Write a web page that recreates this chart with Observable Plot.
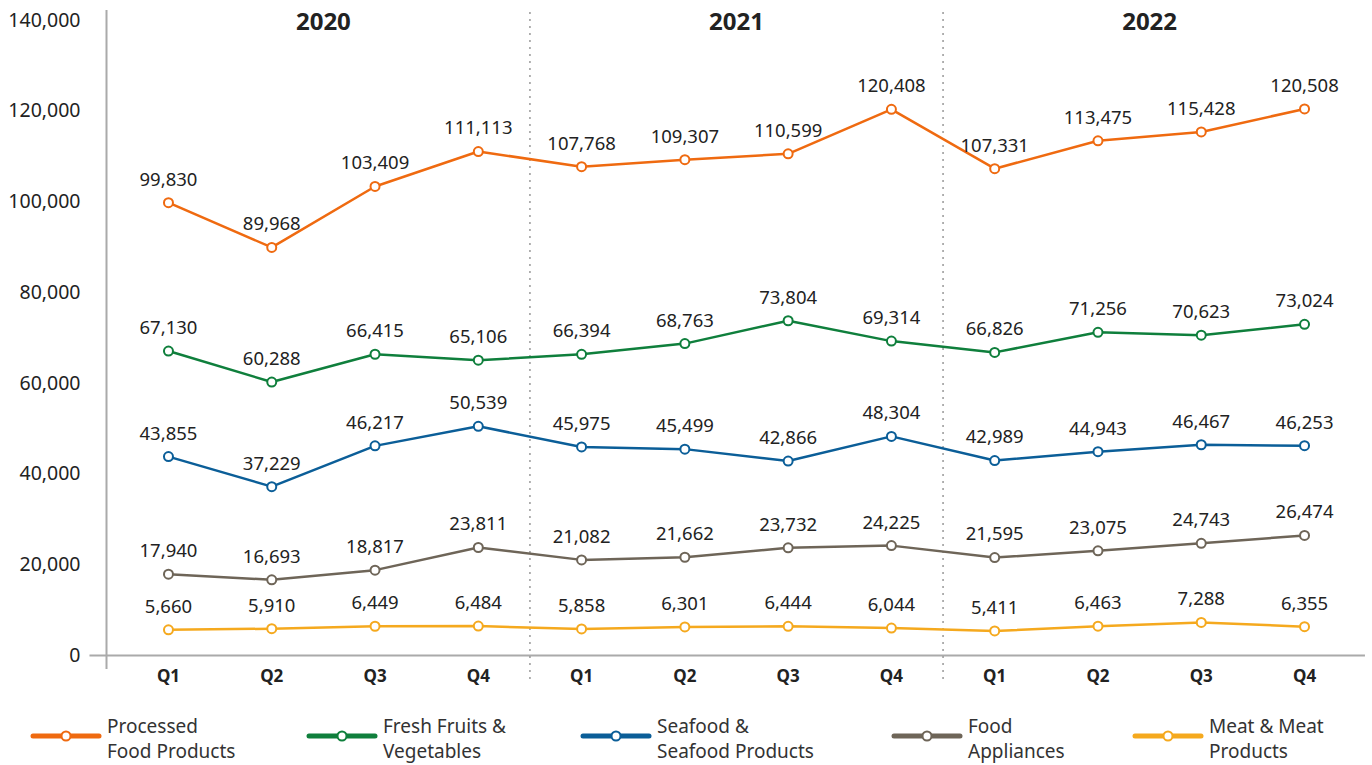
<!DOCTYPE html>
<html><head><meta charset="utf-8">
<script src="https://cdn.jsdelivr.net/npm/d3@7"></script>
<script src="https://cdn.jsdelivr.net/npm/@observablehq/plot@0.6"></script>
<style>
body{margin:0;background:#fff;font-family:"Noto Sans",sans-serif;}
#wrap{position:relative;width:1372px;height:765px;overflow:hidden;}
#legend{position:absolute;left:0;top:700px;width:1372px;height:65px;}
</style></head><body><div id="wrap"><div id="chart"></div><svg id="legend" width="1372" height="65"></svg></div>
<script>
const years = ["2020", "2021", "2022"];
const quarterLabels = ["Q1","Q2","Q3","Q4","Q1","Q2","Q3","Q4","Q1","Q2","Q3","Q4"];
const seriesNames = ["Processed Food Products", "Fresh Fruits & Vegetables", "Seafood & Seafood Products", "Food Appliances", "Meat & Meat Products"];
const legendLines = [["Processed","Food Products"],["Fresh Fruits &","Vegetables"],["Seafood &","Seafood Products"],["Food","Appliances"],["Meat & Meat","Products"]];
const colors = ["#ef6a10", "#0f7f3c", "#0b5e98", "#6e6558", "#f5a91e"];
const processed = [99830, 89968, 103409, 111113, 107768, 109307, 110599, 120408, 107331, 113475, 115428, 120508];
const fresh = [67130, 60288, 66415, 65106, 66394, 68763, 73804, 69314, 66826, 71256, 70623, 73024];
const seafood = [43855, 37229, 46217, 50539, 45975, 45499, 42866, 48304, 42989, 44943, 46467, 46253];
const appliances = [17940, 16693, 18817, 23811, 21082, 21662, 23732, 24225, 21595, 23075, 24743, 26474];
const meat = [5660, 5910, 6449, 6484, 5858, 6301, 6444, 6044, 5411, 6463, 7288, 6355];
const yTicks = [0, 20000, 40000, 60000, 80000, 100000, 120000, 140000];

const allValues = [processed, fresh, seafood, appliances, meat];
const data = [];
allValues.forEach((vals, si) => vals.forEach((v, i) => data.push({series: seriesNames[si], i, value: v})));
const fmt = d3.format(",");

const chart = Plot.plot({
  width: 1372, height: 700,
  marginLeft: 106, marginRight: 6, marginTop: 20, marginBottom: 45,
  x: {domain: [-0.6, 11.6], axis: null},
  y: {domain: [0, 140000], axis: null},
  color: {domain: seriesNames, range: colors},
  style: {fontFamily: "Noto Sans", fontSize: "18px", color: "#222", background: "#fff"},
  marks: [
    Plot.axisY(yTicks, {tickSize: 0, tickPadding: 26, tickFormat: fmt, fontSize: 19.5, fill: "#222", label: null}),
    Plot.ruleX([-0.6], {y1: -3100, y2: 142200, stroke: "#aaa", strokeWidth: 2}),
    Plot.ruleY([0], {x1: -0.76, x2: 11.59, stroke: "#aaa", strokeWidth: 2}),
    Plot.ruleX([3.5, 7.5], {y1: -5300, y2: 142200, stroke: "#999", strokeDasharray: "2,5", strokeWidth: 1.5}),
    Plot.text(years, {x: (d, k) => k * 4 + 1.5, y: 140000, dy: 2, text: d => d, fontWeight: "bold", fontSize: 24, fill: "#222"}),
    Plot.text(quarterLabels, {x: (d, k) => k, y: 0, dy: 21, text: d => d, fontWeight: "bold", fontSize: 17, fill: "#222"}),
    Plot.line(data, {x: "i", y: "value", z: "series", stroke: "series", strokeWidth: 2.5}),
    Plot.dot(data, {x: "i", y: "value", stroke: "series", fill: "white", r: 4.5, strokeWidth: 2}),
    Plot.text(data, {x: "i", y: "value", text: d => fmt(d.value), dy: -23, fontSize: 18.5, fill: "#222"})
  ]
});
document.getElementById("chart").appendChild(chart);

const lg = d3.select("#legend");
const starts = [33, 309, 583, 894, 1135];
seriesNames.forEach((s, k) => {
  const g = lg.append("g");
  g.append("line").attr("x1", starts[k]).attr("x2", starts[k] + 66).attr("y1", 36).attr("y2", 36)
    .attr("stroke", colors[k]).attr("stroke-width", 5).attr("stroke-linecap", "round");
  g.append("circle").attr("cx", starts[k] + 33).attr("cy", 36).attr("r", 4.5)
    .attr("fill", "white").attr("stroke", colors[k]).attr("stroke-width", 2);
  legendLines[k].forEach((t, j) => {
    g.append("text").attr("x", starts[k] + 74).attr("y", 26 + j * 25).attr("dominant-baseline", "central")
      .attr("font-family", "Noto Sans").attr("font-size", 19).attr("fill", "#333").text(t);
  });
});
</script></body></html>
